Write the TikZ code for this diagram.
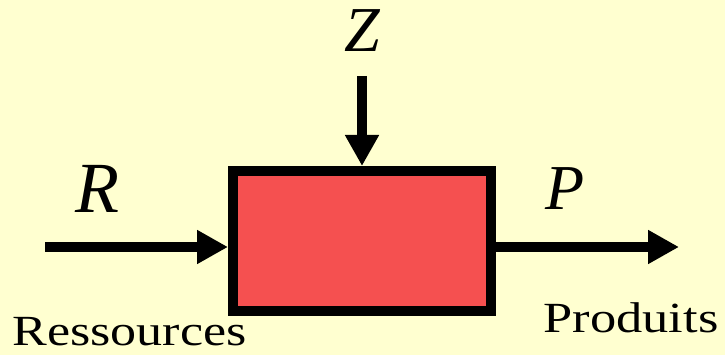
\documentclass[tikz,border=0pt]{standalone}
\usepackage{fontspec}
\setmainfont{Liberation Serif}
\usetikzlibrary{arrows.meta}
\definecolor{bgyellow}{RGB}{255,255,208}
\definecolor{boxred}{RGB}{245,80,80}
\tikzset{
  flow/.style={line width=10.5pt,-{Triangle[length=31pt,width=32pt]}},
  procbox/.style={draw=black,fill=boxred,line width=10pt,minimum width=257.5pt,minimum height=139.5pt,inner sep=0pt},
  varlabel/.style={anchor=base,inner sep=0pt,font=\fontsize{64}{70}\selectfont\itshape},
  wordlabel/.style={anchor=base,inner sep=0pt,font=\fontsize{43}{48}\selectfont}
}
\begin{document}
\begin{tikzpicture}[x=1pt,y=-1pt]
\fill[bgyellow] (0,0) rectangle (725,355);
\useasboundingbox (0,0) rectangle (725,355);
\node[procbox] (box) at (361.75,240.75) {};
\coordinate (lin) at (45,247);
\coordinate (rout) at (679,247);
\coordinate (ztop) at (362,76);
\draw[flow] (lin) -- (lin -| box.west);
\draw[flow] (box.east |- rout) -- (rout);
\draw[flow] (ztop) -- (ztop |- box.north);
\node[varlabel] (zl) at (362,52) {Z};
\node[varlabel,font=\fontsize{72}{80}\selectfont\itshape] (rl) at (97.5,213) {R};
\node[varlabel] (pl) at (565,210) {P};
\node[wordlabel] (res) at (129.5,345) {\scalebox{1.21}[1]{Ressources}};
\node[wordlabel] (prod) at (631,332) {\scalebox{1.22}[1]{Produits}};
\end{tikzpicture}
\end{document}
